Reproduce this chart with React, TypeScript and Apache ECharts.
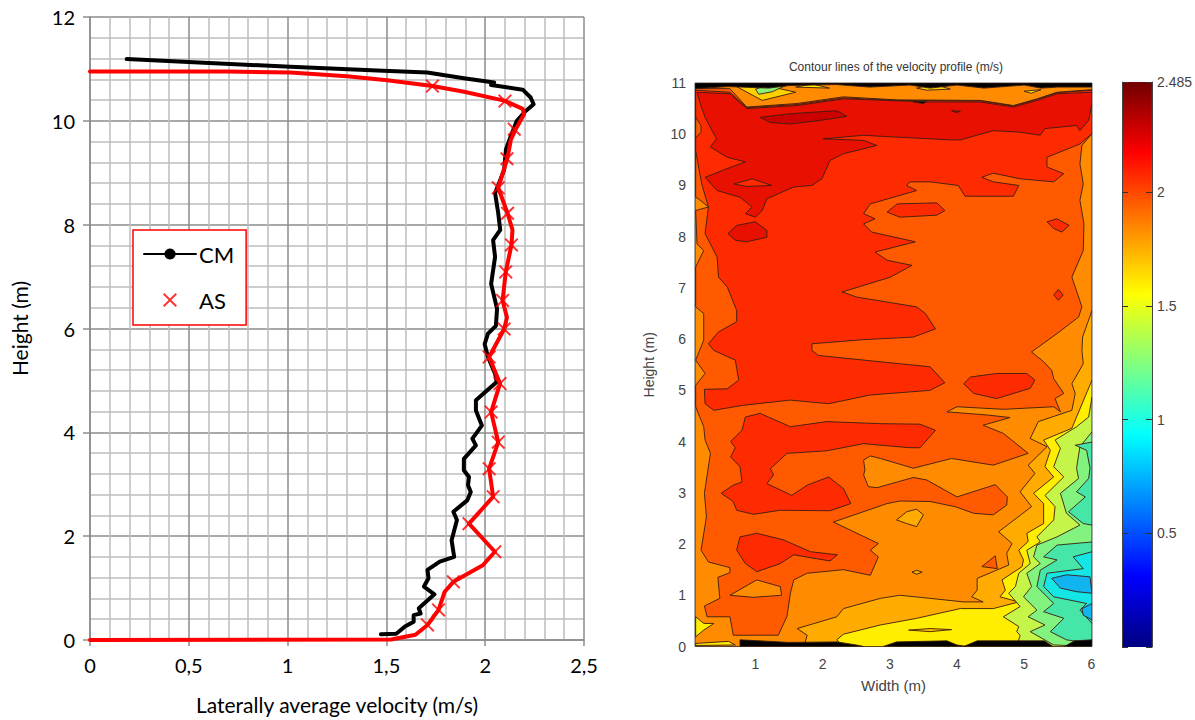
import React, { useEffect, useRef } from "react";
import * as echarts from "echarts";

type P = number[][];

// Left chart: laterally averaged velocity (m/s), height (m)
const cmProfile: P = [[0.186,11.19],[0.524,11.13],[1.014,11.04],[1.453,10.97],[1.707,10.93],[1.892,10.82],[2.045,10.74],[2.03,10.69],[2.19,10.6],[2.23,10.45],[2.245,10.32],[2.205,10.19],[2.16,10],[2.13,9.71],[2.105,9.45],[2.096,9.06],[2.07,8.8],[2.05,8.61],[2.066,8.22],[2.076,7.9],[2.04,7.7],[2.05,7.38],[2.03,6.86],[2.06,6.38],[2.054,6.05],[2.014,5.9],[1.997,5.7],[2.014,5.45],[2.05,5.13],[2.058,4.97],[1.953,4.62],[1.953,4.42],[1.983,4.13],[1.935,3.88],[1.953,3.75],[1.892,3.49],[1.892,3.27],[1.918,3.14],[1.913,2.98],[1.927,2.85],[1.909,2.69],[1.839,2.47],[1.857,2.31],[1.83,1.92],[1.843,1.6],[1.77,1.51],[1.708,1.35],[1.713,1.19],[1.69,1.03],[1.743,0.88],[1.664,0.61],[1.673,0.51],[1.638,0.48],[1.638,0.35],[1.594,0.26],[1.55,0.12],[1.472,0.11]];
const asProfile: P = [[0,10.95],[0.693,10.95],[1.014,10.93],[1.3,10.86],[1.504,10.78],[1.733,10.67],[1.893,10.56],[2.096,10.39],[2.19,10.23],[2.197,10.13],[2.155,9.84],[2.13,9.64],[2.113,9.29],[2.066,8.71],[2.113,8.22],[2.138,7.9],[2.133,7.61],[2.104,7.09],[2.088,6.54],[2.11,6.21],[2.096,5.99],[2.02,5.45],[2.075,4.94],[2.03,4.39],[2.066,3.81],[2.02,3.3],[2.04,2.76],[1.918,2.24],[2.049,1.7],[1.988,1.44],[1.839,1.12],[1.795,0.93],[1.764,0.58],[1.708,0.29],[1.647,0.1],[1.524,0.01],[0,0]];
const asMarkers: P = [[1.733,10.67],[2.1,10.38],[2.147,9.84],[2.11,9.27],[2.066,8.71],[2.113,8.22],[2.133,7.61],[2.104,7.09],[2.088,6.54],[2.096,5.99],[2.02,5.45],[2.075,4.94],[2.03,4.39],[2.066,3.81],[2.02,3.3],[2.04,2.76],[1.918,2.24],[2.049,1.7],[1.839,1.12],[1.764,0.58],[1.708,0.29]];

// Right chart: contour regions, as [width (m), height (m)] vertices
const baseBand: P = [[0.1,0],[6.01,0],[6.01,11],[0.1,11]];
const bandA: P = [[0.11,10.89],[0.62,10.89],[0.87,10.53],[1.62,10.6],[2.31,10.73],[3.11,10.67],[4.35,10.66],[4.84,10.56],[5.19,10.69],[5.49,10.82],[6.01,10.87],[6.01,10.01],[5.86,9.78],[5.83,9.42],[5.88,9.03],[5.83,8.71],[5.89,8.25],[5.88,7.73],[5.71,7.21],[5.86,6.63],[5.81,6.43],[5.49,6.11],[5.11,5.75],[5.29,5.56],[5.41,5.39],[5.44,5.23],[5.59,4.94],[5.46,4.84],[5.54,4.58],[5.44,4.68],[4.69,4.63],[4,4.68],[3.85,4.58],[4.44,4.52],[4.79,4.47],[4.39,4.32],[4.69,4.16],[5.06,3.77],[4.54,3.54],[3.92,3.67],[3.35,3.48],[2.86,3.67],[2.71,3.72],[2.61,3.64],[2.63,3.44],[2.61,3.35],[2.68,3.12],[2.81,3.1],[3.35,3.3],[3.55,3.25],[4,2.92],[4.57,3.16],[4.75,2.92],[4.74,2.76],[4.54,2.57],[4.25,2.6],[3.97,2.73],[3.6,2.83],[3.15,2.84],[2.96,2.79],[2.16,2.43],[2.83,2.01],[2.71,1.88],[2.83,1.75],[2.71,1.39],[2.31,1.5],[1.77,1.43],[1.57,1.3],[1.52,1.04],[1.47,0.59],[1.34,0.22],[0.67,0.22],[0.62,0.58],[0.28,0.58],[0.24,0.79],[0.47,0.94],[0.44,1.35],[0.62,1.44],[0.62,1.54],[0.3,1.65],[0.19,1.88],[0.27,2.53],[0.24,2.99],[0.33,3.77],[0.25,4.03],[0.23,4.29],[0.11,4.68],[0.11,5.1],[0.25,5.33],[0.11,5.59],[0.23,5.98],[0.23,6.5],[0.11,6.63],[0.11,7.41],[0.23,7.73],[0.13,7.86],[0.11,8.51],[0.3,8.58],[0.15,8.74],[0.11,8.77]];
const islandA1: P = [[4.37,1.56],[4.57,1.77],[4.6,1.52]];
const islandA2: P = [[0.11,10.33],[0.19,10.17],[0.19,10.04],[0.11,9.93]];
const holeOrange: P = [[0.62,1],[1.02,1.3],[1.37,1.17],[1.39,1],[0.97,0.96]];
const bandB: P = [[0.11,10.86],[0.62,10.82],[0.87,10.52],[1.62,10.58],[2.31,10.71],[3.11,10.66],[4.35,10.65],[4.84,10.55],[5.19,10.68],[5.49,10.81],[6.01,10.86],[6.01,10.01],[5.83,9.81],[5.34,9.55],[5.34,9.36],[5.59,9.23],[5.44,9.07],[4.94,9.13],[4.54,9.24],[4.37,9.16],[4.54,9.07],[4.92,9],[4.84,8.79],[4.12,8.79],[4.02,9],[3.6,9.07],[3.3,9.07],[3.25,9],[3.4,8.9],[2.71,8.64],[2.61,8.45],[2.78,8.35],[2.61,8.25],[2.73,8.09],[3.38,7.9],[2.78,7.7],[2.96,7.54],[3.33,7.44],[3.01,7.21],[2.29,6.92],[2.51,6.82],[3.4,6.63],[3.53,6.5],[3.68,6.2],[3.35,6.04],[2.61,5.99],[1.84,5.91],[1.84,5.78],[1.94,5.68],[3.6,5.46],[3.82,5.15],[3.6,5],[2.71,4.91],[2.09,4.74],[1.52,4.81],[0.82,4.71],[0.38,4.61],[0.25,4.74],[0.24,5.02],[0.58,5.03],[0.75,5.2],[0.7,5.59],[0.38,5.78],[0.3,5.91],[0.45,6.14],[0.72,6.34],[0.72,6.56],[0.58,7.02],[0.45,7.21],[0.43,7.6],[0.25,8.06],[0.3,8.58],[0.2,9.03],[0.11,9.68]];
const islandB1: P = [[2.96,8.48],[3.11,8.64],[3.7,8.66],[3.82,8.51],[3.7,8.42],[3.15,8.38]];
const islandB2: P = [[5.34,8.29],[5.49,8.35],[5.67,8.22],[5.56,8.09],[5.44,8.16]];
const islandB3: P = [[5.44,6.86],[5.51,6.97],[5.58,6.86],[5.51,6.76]];
const islandB4: P = [[4.1,5.13],[4.2,5.26],[4.59,5.33],[5.04,5.33],[5.16,5.2],[5.09,5.04],[4.59,4.84],[4.25,4.94]];
const islandB5: P = [[0.63,4],[0.8,4.22],[0.85,4.48],[1.07,4.55],[1.52,4.29],[2.06,4.39],[2.86,4.35],[3.45,4.34],[3.68,4.22],[3.45,3.88],[3.3,3.88],[2.61,3.96],[2.06,3.82],[1.47,3.77],[1.22,3.47],[1.27,3.35],[1.17,3.18],[1.54,2.95],[1.77,3.15],[2.09,3.31],[2.31,3.08],[2.42,2.79],[2.11,2.65],[1.37,2.66],[0.97,2.58],[0.72,2.66],[0.67,2.83],[0.49,2.99],[0.67,3.15],[0.8,3.21],[0.77,3.51],[0.63,3.7],[0.7,3.88]];
const islandB6: P = [[0.72,1.88],[0.77,2.14],[1.02,2.21],[1.42,2.08],[1.82,1.85],[2.22,1.79],[2.11,1.67],[1.57,1.79],[1.37,1.62],[1.02,1.46],[0.85,1.62]];
const bandC: P = [[0.13,10.82],[0.62,10.79],[0.87,10.5],[1.62,10.56],[2.31,10.69],[3.6,10.63],[4.35,10.63],[4.84,10.53],[5.19,10.66],[5.49,10.79],[6.01,10.82],[6.01,10.6],[5.96,10.27],[5.83,10.07],[5.78,10.17],[5.31,10.11],[5.24,9.98],[4.94,10.04],[4.54,10.07],[4.05,9.89],[3.9,9.89],[2.86,9.96],[2.61,9.98],[2.01,9.91],[2.61,9.88],[2.81,9.78],[2.31,9.62],[2.11,9.49],[1.99,9.13],[1.84,9],[1.57,8.97],[1.17,8.74],[1.1,8.51],[1,8.38],[0.85,8.45],[0.95,8.58],[0.77,8.77],[0.43,8.9],[0.25,9.16],[0.33,9.2],[0.58,9.33],[0.85,9.46],[0.58,9.55],[0.33,9.75],[0.42,9.91],[0.25,10.33],[0.18,10.59]];
const islandC1: P = [[0.59,8.06],[0.72,8.22],[1,8.29],[1.17,8.12],[1.17,7.99],[0.87,7.9],[0.7,7.93]];
const holeC: P = [[0.68,9.03],[0.95,9.13],[1.24,9],[0.87,8.98]];
const bandD1: P = [[1.07,10.33],[1.52,10.4],[2.21,10.46],[2.36,10.35],[1.96,10.27],[1.52,10.2],[1.22,10.23]];
const bandD2: P = [[3.92,10.46],[4.05,10.45],[3.99,10.42]];
const bandE: P = [[6.01,6.56],[5.87,6.04],[5.86,5.78],[5.88,5.52],[5.71,5.13],[5.76,4.94],[5.71,4.61],[5.21,4.39],[5.09,4.06],[5.34,3.9],[5.06,3.54],[5.16,3.38],[4.94,3.02],[5.11,2.73],[4.62,2.24],[4.82,2.01],[4.74,1.82],[4.77,1.59],[4.3,1.33],[4.3,1.1],[4.22,0.97],[4.39,0.87],[4.1,0.87],[3.6,0.94],[3.15,1],[2.86,0.94],[2.31,0.74],[2.21,0.58],[1.62,0.35],[1.77,0.22],[1.72,0],[6.01,0]];
const islandE1: P = [[3.1,2.47],[3.25,2.63],[3.4,2.68],[3.5,2.57],[3.4,2.34],[3.25,2.4]];
const islandE2: P = [[3.33,1.45],[3.4,1.49],[3.48,1.45],[3.4,1.41]];
const bandF: P = [[6.01,5.2],[5.78,4.48],[5.71,4.26],[5.29,4.03],[5.39,3.83],[5.31,3.51],[5.44,3.31],[5.14,2.99],[5.29,2.79],[5.29,2.4],[5.04,2.21],[5.06,2.05],[4.92,1.88],[4.99,1.69],[4.97,1.56],[4.67,1.3],[4.72,1.1],[4.64,0.97],[4.92,0.87],[4.54,0.74],[4.05,0.74],[3.4,0.55],[2.86,0.42],[2.31,0.24],[2.21,0.13],[2.31,0],[6.01,0]];
const sliverF: P = [[3.28,0.32],[3.6,0.35],[3.92,0.33],[3.6,0.29]];
const bandG: P = [[6.01,4.87],[5.96,4.48],[5.78,4.29],[5.46,4.03],[5.54,3.87],[5.44,3.51],[5.59,3.31],[5.31,2.95],[5.46,2.73],[5.44,2.47],[5.19,2.14],[5.24,2.04],[5.04,1.88],[5.09,1.62],[4.92,1.43],[4.87,1.17],[4.77,1.04],[4.94,0.78],[4.69,0.58],[4.92,0.39],[4.89,0.29],[4.94,0.22],[4.89,0],[6.01,0]];
const bandH: P = [[6.01,4.19],[5.83,3.9],[5.78,3.48],[5.81,3.28],[5.54,2.99],[5.63,2.6],[5.83,2.37],[5.49,2.14],[5.19,1.98],[5.14,1.75],[5.24,1.62],[5.04,1.43],[5.11,1.17],[4.99,0.97],[5.19,0.71],[5.06,0.58],[5.31,0.42],[5.09,0.29],[5.44,0.03],[6.01,0]];
const bandI1: P = [[6.01,3.99],[5.76,3.93],[5.93,3.83],[5.98,3.48],[5.96,3.28],[5.78,3.02],[5.91,2.92],[5.66,2.63],[5.88,2.4],[6.01,2.37]];
const bandI2: P = [[6.01,2.04],[5.49,1.98],[5.29,1.75],[5.49,1.69],[5.24,1.49],[5.19,1.17],[5.44,0.84],[5.29,0.68],[5.59,0.55],[5.39,0.29],[5.63,0.13],[6.01,0.06]];
const bandJ: P = [[6.01,1.85],[5.73,1.75],[5.88,1.52],[5.34,1.43],[5.29,1.17],[5.44,0.97],[5.93,0.84],[5.83,0.71],[6.01,0.45]];
const bandK1: P = [[5.41,1.33],[5.63,1.4],[5.98,1.36],[6.01,1.04],[5.78,1.07],[5.54,1.14]];
const bandK2: P = [[5.86,0.74],[6.01,0.84],[6.01,0.52],[5.88,0.61]];
const leftYellow1: P = [[0.11,0.58],[0.23,0.45],[0.38,0.45],[0.23,0.32],[0.11,0.19]];
const leftYellow2: P = [[0.11,0.06],[0.6,0.1],[0.7,0.03],[0.11,0.02]];
const topYellow1: P = [[0.72,10.93],[1.1,10.66],[1.6,10.82],[1.15,10.95]];
const topGreen: P = [[1,10.88],[1.2,10.97],[1.45,10.95],[1.25,10.83],[1.05,10.78]];
const topYellow2: P = [[1.6,10.92],[1.85,10.98],[2.1,10.9]];
const topYellow3: P = [[3.4,10.9],[3.65,10.98],[3.9,10.88],[3.55,10.86]];
const topYellow4: P = [[5,10.84],[5.25,10.87],[5.1,10.8]];
const topBlack: P = [[0.1,11],[6.01,11],[6.01,10.92],[5.5,10.92],[5.25,10.9],[5,10.96],[4.4,10.9],[4,10.96],[3.6,10.9],[3.3,10.96],[2.7,10.92],[2.2,10.97],[1.5,10.95],[1.2,10.9],[0.6,10.93],[0.1,10.89]];
const topBlackBit: P = [[3.35,10.63],[3.55,10.64],[3.5,10.6]];
const bottomBlack1: P = [[0.77,0.13],[1.5,0.08],[2.21,0.09],[2.5,0.03],[2.61,0],[0.77,0]];
const bottomBlack2: P = [[2.9,0],[3.1,0.09],[3.85,0.11],[4,0.03],[4.15,0]];
const bottomBlack3: P = [[4.1,0],[4.3,0.11],[5.3,0.11],[5.43,0]];
const bottomBlack4: P = [[5.6,0],[5.75,0.11],[6.01,0.13],[6.01,0]];

const contourLayers: { pts: P; fill: string }[] = [
  { pts: baseBand, fill: "#ff8c00" },
  { pts: bandA, fill: "#ff5a00" },
  { pts: holeOrange, fill: "#ff8c00" },
  { pts: islandA1, fill: "#ff5a00" },
  { pts: bandB, fill: "#ff2b00" },
  { pts: islandA2, fill: "#ff5a00" },
  { pts: islandB1, fill: "#ff2b00" },
  { pts: islandB2, fill: "#ff2b00" },
  { pts: islandB3, fill: "#ff2b00" },
  { pts: islandB4, fill: "#ff2b00" },
  { pts: islandB5, fill: "#ff2b00" },
  { pts: islandB6, fill: "#ff2b00" },
  { pts: bandC, fill: "#e81000" },
  { pts: islandC1, fill: "#e81000" },
  { pts: holeC, fill: "#ff2b00" },
  { pts: bandD1, fill: "#cc0000" },
  { pts: bandD2, fill: "#cc0000" },
  { pts: bandE, fill: "#ffab00" },
  { pts: islandE1, fill: "#ffab00" },
  { pts: islandE2, fill: "#ffab00" },
  { pts: bandF, fill: "#ffee00" },
  { pts: sliverF, fill: "#ffc000" },
  { pts: bandG, fill: "#c4f548" },
  { pts: bandH, fill: "#82f37e" },
  { pts: bandI1, fill: "#45e6a8" },
  { pts: bandI2, fill: "#45e6a8" },
  { pts: bandJ, fill: "#14e6e6" },
  { pts: bandK1, fill: "#12b4f0" },
  { pts: bandK2, fill: "#12b4f0" },
  { pts: leftYellow1, fill: "#ffee00" },
  { pts: leftYellow2, fill: "#ffee00" },
  { pts: topYellow1, fill: "#ffd000" },
  { pts: topGreen, fill: "#8cf078" },
  { pts: topYellow2, fill: "#ffee00" },
  { pts: topYellow3, fill: "#ffd000" },
  { pts: topYellow4, fill: "#ffee00" },
  { pts: topBlack, fill: "#000000" },
  { pts: topBlackBit, fill: "#000000" },
  { pts: bottomBlack1, fill: "#000000" },
  { pts: bottomBlack2, fill: "#000000" },
  { pts: bottomBlack3, fill: "#000000" },
  { pts: bottomBlack4, fill: "#000000" },
];

const widthTicks = [1, 2, 3, 4, 5, 6];
const jetStops = ["#000080", "#0000ff", "#0080ff", "#00ffff", "#80ff80", "#ffff00", "#ff8000", "#ff0000", "#700000"];
const colorbarRange: P = [[0, 2.485]];

const crossIcon = "path://M1 0 L5 4 L9 0 L10 1 L6 5 L10 9 L9 10 L5 6 L1 10 L0 9 L4 5 L0 1 Z";
const excelFont = "Lato";
const matlabFont = "'Liberation Sans'";

export default function App() {
  const ref = useRef<HTMLDivElement>(null);
  useEffect(() => {
    const chart = echarts.init(ref.current!, null, { renderer: "svg" });
    const matlabLabel = { color: "#444", fontFamily: matlabFont, fontSize: 14 };
    chart.setOption({
      animation: false,
      backgroundColor: "#fff",
      title: {
        text: "Contour lines of the velocity profile (m/s)",
        left: 891,
        top: 56,
        textAlign: "center",
        textStyle: { color: "#333", fontFamily: matlabFont, fontSize: 12, fontWeight: "normal" },
      },
      legend: {
        left: 133,
        top: 230,
        orient: "vertical",
        align: "left",
        width: 114,
        padding: [13, 12, 14, 10],
        itemWidth: 52,
        itemHeight: 14,
        itemGap: 24,
        backgroundColor: "#fff",
        borderColor: "#ff0000",
        borderWidth: 1.5,
        z: 20,
        textStyle: { color: "#000", fontFamily: excelFont, fontSize: 22, padding: [0, 0, 0, -2] },
        data: [{ name: "CM" }, { name: "AS", icon: crossIcon }],
      },
      grid: [
        { left: 90, top: 17, width: 494, height: 623 },
        { left: 695, top: 83, width: 397, height: 563.5, show: true, borderColor: "#555", borderWidth: 1, z: 1 },
        { left: 1122, top: 82, width: 39, height: 565 },
      ],
      xAxis: [
        {
          gridIndex: 0,
          type: "value",
          min: 0,
          max: 2.5,
          interval: 0.5,
          minorTick: { show: false, splitNumber: 5 },
          minorSplitLine: { show: true, lineStyle: { color: "#bcbcbc", width: 1.5 } },
          splitLine: { show: true, lineStyle: { color: "#8c8c8c", width: 1.5 } },
          axisLine: { show: true, lineStyle: { color: "#8c8c8c", width: 1.5 } },
          axisTick: { show: true, length: 6, lineStyle: { color: "#8c8c8c", width: 1.5 } },
          axisLabel: {
            color: "#000",
            fontFamily: excelFont,
            fontSize: 20,
            margin: 15,
            formatter: (v: number) => String(v).replace(".", ","),
          },
          name: "Laterally average velocity (m/s)",
          nameLocation: "middle",
          nameGap: 54,
          nameTextStyle: { color: "#000", fontFamily: excelFont, fontSize: 21 },
        },
        {
          gridIndex: 1,
          type: "value",
          min: 0.1,
          max: 6.01,
          splitLine: { show: false },
          axisLine: { show: false },
          axisTick: { show: true, inside: true, length: 5, customValues: widthTicks, lineStyle: { color: "#444" } },
          axisLabel: { ...matlabLabel, margin: 10, customValues: widthTicks },
          name: "Width (m)",
          nameLocation: "middle",
          nameGap: 31,
          nameTextStyle: { ...matlabLabel, fontSize: 15 },
        },
        {
          gridIndex: 2,
          type: "value",
          min: 0,
          max: 1,
          show: false,
        },
      ],
      yAxis: [
        {
          gridIndex: 0,
          type: "value",
          min: 0,
          max: 12,
          interval: 2,
          minorTick: { show: false, splitNumber: 5 },
          minorSplitLine: { show: true, lineStyle: { color: "#bcbcbc", width: 1.5 } },
          splitLine: { show: true, lineStyle: { color: "#8c8c8c", width: 1.5 } },
          axisLine: { show: true, lineStyle: { color: "#8c8c8c", width: 1.5 } },
          axisTick: { show: true, length: 7, lineStyle: { color: "#8c8c8c", width: 1.5 } },
          axisLabel: { color: "#000", fontFamily: excelFont, fontSize: 20, margin: 15 },
          name: "Height (m)",
          nameLocation: "middle",
          nameGap: 60,
          nameTextStyle: { color: "#000", fontFamily: excelFont, fontSize: 21 },
        },
        {
          gridIndex: 1,
          type: "value",
          min: 0,
          max: 11,
          interval: 1,
          splitLine: { show: false },
          axisLine: { show: false },
          axisTick: { show: true, inside: true, length: 5, lineStyle: { color: "#444" } },
          axisLabel: { ...matlabLabel, margin: 9 },
          name: "Height (m)",
          nameLocation: "middle",
          nameGap: 39,
          nameRotate: 90,
          nameTextStyle: { ...matlabLabel, fontSize: 14 },
        },
        {
          gridIndex: 2,
          type: "value",
          min: 0,
          max: 2.485,
          interval: 0.5,
          position: "left",
          z: 10,
          splitLine: { show: false },
          axisLine: { show: true, lineStyle: { color: "#444" } },
          axisTick: { show: true, inside: true, length: 6, lineStyle: { color: "#333" } },
          axisLabel: { show: false },
        },
        {
          gridIndex: 2,
          type: "value",
          min: 0,
          max: 2.485,
          interval: 0.5,
          position: "right",
          z: 10,
          splitLine: { show: false },
          axisLine: { show: true, lineStyle: { color: "#444" } },
          axisTick: { show: true, inside: true, length: 6, lineStyle: { color: "#333" } },
          axisLabel: { ...matlabLabel, margin: 5, formatter: (v: number) => (v === 0 ? "" : String(v)) },
        },
      ],
      series: [
        {
          name: "CM",
          type: "line",
          xAxisIndex: 0,
          yAxisIndex: 0,
          data: cmProfile,
          symbol: "none",
          clip: false,
          lineStyle: { color: "#000", width: 4, cap: "round", join: "round" },
          itemStyle: { color: "#000" },
          z: 5,
        },
        {
          name: "AS profile",
          type: "line",
          xAxisIndex: 0,
          yAxisIndex: 0,
          data: asProfile,
          symbol: "none",
          clip: false,
          lineStyle: { color: "#ff0000", width: 4, cap: "round", join: "round" },
          z: 6,
        },
        {
          name: "AS",
          type: "scatter",
          xAxisIndex: 0,
          yAxisIndex: 0,
          data: asMarkers,
          symbol: crossIcon,
          symbolSize: 14,
          itemStyle: { color: "#ff0000" },
          z: 7,
        },
        {
          name: "Velocity contours",
          type: "custom",
          xAxisIndex: 1,
          yAxisIndex: 1,
          clip: true,
          data: contourLayers.map((l) => l.pts[0]),
          encode: { x: 0, y: 1 },
          z: 2,
          renderItem: (params: any, api: any) => {
            const layer = contourLayers[params.dataIndex];
            return {
              type: "polygon",
              shape: { points: layer.pts.map((p) => api.coord(p)) },
              style: { fill: layer.fill, stroke: "#3a1c12", lineWidth: 0.9 },
            };
          },
        },
        {
          name: "Colour bar",
          type: "custom",
          xAxisIndex: 2,
          yAxisIndex: 2,
          data: colorbarRange,
          encode: { y: [0, 1] },
          z: 2,
          renderItem: (_p: any, api: any) => {
            const bottom = api.coord([0, api.value(0)]);
            const top = api.coord([1, api.value(1)]);
            return {
              type: "rect",
              shape: { x: bottom[0], y: top[1], width: top[0] - bottom[0], height: bottom[1] - top[1] },
              style: {
                fill: new echarts.graphic.LinearGradient(
                  0,
                  1,
                  0,
                  0,
                  jetStops.map((color, i) => ({ offset: i / (jetStops.length - 1), color }))
                ),
              },
            };
          },
        },
      ],
    });
    return () => chart.dispose();
  }, []);
  return <div ref={ref} style={{ position: "fixed", left: 0, top: 0, width: 1195, height: 720 }} />;
}
